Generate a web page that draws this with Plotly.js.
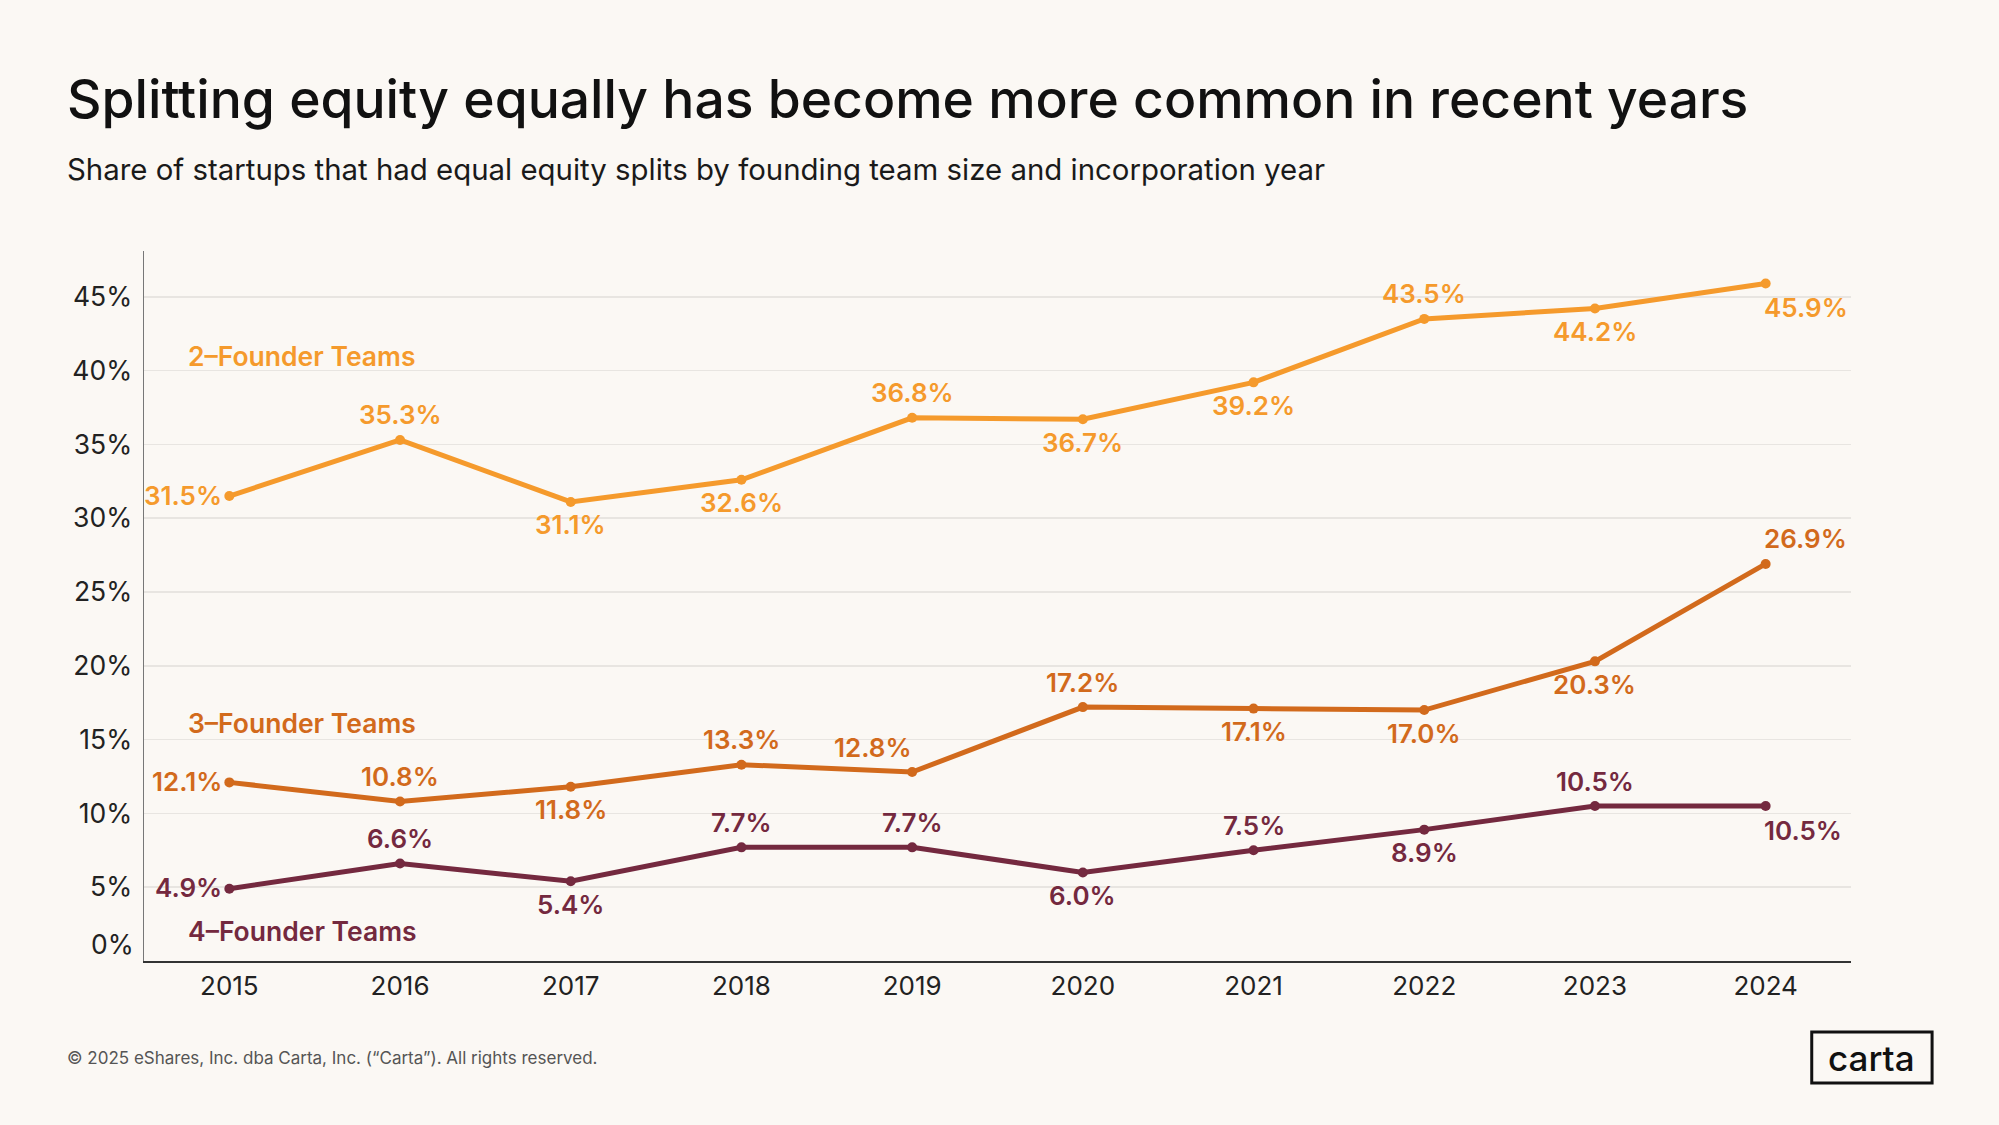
<!DOCTYPE html>
<html>
<head>
<meta charset="utf-8">
<script src="https://cdn.plot.ly/plotly-3.0.1.min.js"></script>
<style>
  html, body { margin: 0; padding: 0; background: #FBF8F4; }
  #chart { width: 1999px; height: 1125px; }
</style>
</head>
<body>
<div id="chart"></div>
<script>
// ---- Data ----
const years = [2015, 2016, 2017, 2018, 2019, 2020, 2021, 2022, 2023, 2024];
const twoFounder = [31.5, 35.3, 31.1, 32.6, 36.8, 36.7, 39.2, 43.5, 44.2, 45.9];
const threeFounder = [12.1, 10.8, 11.8, 13.3, 12.8, 17.2, 17.1, 17.0, 20.3, 26.9];
const fourFounder = [4.9, 6.6, 5.4, 7.7, 7.7, 6.0, 7.5, 8.9, 10.5, 10.5];
const seriesNames = ["2–Founder Teams", "3–Founder Teams", "4–Founder Teams"];
const yTickVals = [5, 10, 15, 20, 25, 30, 35, 40, 45];

// ---- Label placement (style, not data) ----
const twoPos   = ["L", "T", "B", "B", "T", "B", "B", "T", "B", "BR"];
const threePos = ["L", "T", "B", "T", "TL", "T", "B", "B", "B", "TR"];
const fourPos  = ["L", "T", "B", "T", "T", "B", "T", "B", "T", "BR"];
const nameLabelY = [41.0, 16.1, 2.0];

const colors = ["#F59A2C", "#D26A1C", "#74293F"];
const FONT = "Inter, 'Open Sans', sans-serif";

const seriesVals = [twoFounder, threeFounder, fourFounder];
const seriesPos = [twoPos, threePos, fourPos];

const traces = seriesVals.map((vals, i) => ({
  x: years,
  y: vals,
  type: "scatter",
  mode: "lines+markers",
  name: seriesNames[i],
  line: { color: colors[i], width: 5 },
  marker: { color: colors[i], size: 10 },
  hoverinfo: "skip"
}));

const annotations = [];
seriesVals.forEach((vals, i) => {
  vals.forEach((v, j) => {
    const p = seriesPos[i][j];
    const a = {
      x: years[j], y: v, xref: "x", yref: "y",
      text: v.toFixed(1) + "%",
      showarrow: false,
      font: { family: FONT, size: 26, color: colors[i], weight: 600 },
      xanchor: "center", yanchor: "middle",
      xshift: 0, yshift: 0
    };
    if (p === "L") { a.xanchor = "right"; a.xshift = -5; a.yshift = 1; }
    else if (p === "T") { a.yshift = 25; }
    else if (p === "B") { a.yshift = -23; }
    else if (p === "BR") { a.xanchor = "left"; a.xshift = -4; a.yshift = -24; }
    else if (p === "TR") { a.xanchor = "left"; a.xshift = -4; a.yshift = 25; }
    else if (p === "TL") { a.xanchor = "right"; a.xshift = 2; a.yshift = 25; }
    annotations.push(a);
  });
});

// Series name labels
seriesNames.forEach((n, i) => {
  annotations.push({
    x: 0.0245, xref: "paper", y: nameLabelY[i], yref: "y",
    text: n, showarrow: false, xanchor: "left", yanchor: "middle",
    font: { family: FONT, size: 26.5, color: colors[i], weight: 600 }
  });
});

// 0% tick label (sits slightly above the axis line)
annotations.push({
  x: 0, xref: "paper", y: 0, yref: "y", text: "0%", showarrow: false,
  xanchor: "right", yanchor: "middle", xshift: -8, yshift: 17,
  font: { family: FONT, size: 26.5, color: "#222222" }
});

// Title, subtitle, footer, logo
annotations.push({
  x: -0.046, xref: "paper", y: 1.2145, yref: "paper",
  text: "Splitting equity equally has become more common in recent years",
  showarrow: false, xanchor: "left", yanchor: "middle",
  font: { family: FONT, size: 53.4, color: "#111111", weight: 500 }
});
annotations.push({
  x: -0.046, xref: "paper", y: 1.115, yref: "paper",
  text: "Share of startups that had equal equity splits by founding team size and incorporation year",
  showarrow: false, xanchor: "left", yanchor: "middle",
  font: { family: FONT, size: 29.4, color: "#1a1a1a", weight: 400 }
});
annotations.push({
  x: -0.046, xref: "paper", y: -0.1366, yref: "paper",
  text: "© 2025 eShares, Inc. dba Carta, Inc. (“Carta”). All rights reserved.",
  showarrow: false, xanchor: "left", yanchor: "middle",
  font: { family: FONT, size: 17, color: "#555555" }
});
annotations.push({
  x: 1.0123, xref: "paper", y: -0.1366, yref: "paper",
  text: "carta", showarrow: false, xanchor: "center", yanchor: "middle",
  font: { family: FONT, size: 35, color: "#111111", weight: 500 }
});

const layout = {
  width: 1999, height: 1125,
  paper_bgcolor: "#FBF8F4",
  plot_bgcolor: "#FBF8F4",
  showlegend: false,
  margin: { l: 144, r: 148, t: 251, b: 164, pad: 0 },
  xaxis: {
    range: [2014.5, 2024.5],
    tickvals: years,
    ticktext: years.map(String),
    showgrid: false,
    zeroline: false,
    showline: true, linecolor: "#333333", linewidth: 2,
    ticks: "", ticklabelstandoff: 1,
    tickfont: { family: FONT, size: 26, color: "#222222" },
    fixedrange: true
  },
  yaxis: {
    range: [0, 48.1],
    tickvals: yTickVals,
    ticktext: yTickVals.map(v => v + "%"),
    showgrid: true, gridcolor: "#E8E5E1", gridwidth: 1.5,
    zeroline: false,
    showline: true, linecolor: "#777777", linewidth: 1.5,
    ticks: "", ticklabelstandoff: 5,
    tickfont: { family: FONT, size: 26.5, color: "#222222" },
    fixedrange: true
  },
  annotations: annotations,
  shapes: [{
    type: "rect", xref: "paper", yref: "paper",
    x0: 0.977, x1: 1.0475, y0: -0.1, y1: -0.1718,
    line: { color: "#111111", width: 3 }, fillcolor: "rgba(0,0,0,0)"
  }]
};

Plotly.newPlot("chart", traces, layout, { displayModeBar: false, staticPlot: true });
</script>
</body>
</html>
